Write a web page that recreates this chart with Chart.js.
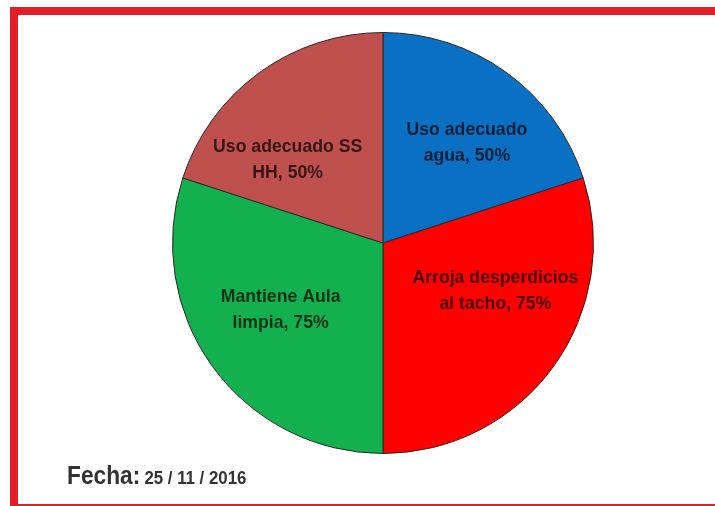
<!DOCTYPE html>
<html>
<head>
<meta charset="utf-8">
<script src="https://cdn.jsdelivr.net/npm/chart.js@4"></script>
<style>
  html, body { margin: 0; padding: 0; background: #fff; }
  #wrap { position: relative; width: 715px; height: 506px; overflow: hidden; }
  #fecha {
    position: absolute; left: 67px; top: 461px;
    font-family: "Liberation Sans", Arial, sans-serif;
    font-weight: bold; color: #333; white-space: nowrap;
    transform: scaleX(0.91); transform-origin: left center;
  }
  #fecha .k { font-size: 25px; }
  #fecha .v { font-size: 18.5px; }
</style>
</head>
<body>
<div id="wrap">
  <canvas id="grafico" width="715" height="506"></canvas>
  <div id="fecha"><span class="k">Fecha:</span> <span class="v">25 / 11 / 2016</span></div>
</div>
<script>
// datos del grafico
const categorias = ["Uso adecuado agua", "Arroja desperdicios al tacho", "Mantiene Aula limpia", "Uso adecuado SS HH"];
const valores = [50, 75, 75, 50];
const etiquetas = [["Uso adecuado", "agua, 50%"], ["Arroja desperdicios", "al tacho, 75%"], ["Mantiene Aula", "limpia, 75%"], ["Uso adecuado SS", "HH, 50%"]];
const colores = ["#0a70c4", "#ff0000", "#13b04f", "#c0504d"];

// ajuste fino de donde va cada etiqueta (grados, fraccion del radio)
const ajusteAngulo = [4, -13, 3, -13];
const ajusteRadio = [0.62, 0.58, 0.58, 0.6];

const canvas = document.getElementById("grafico");

// marco rojo
const marco = {
  id: "marco",
  beforeDraw(chart) {
    const ctx = chart.ctx;
    ctx.save();
    ctx.fillStyle = "#fff";
    ctx.fillRect(0, 0, chart.width, chart.height);
    ctx.strokeStyle = "#e21f26";
    ctx.lineWidth = 8;
    ctx.strokeRect(14, 11, 720, 497);
    ctx.restore();
  },
};

// etiquetas dentro de cada tajada
const textos = {
  id: "textos",
  afterDatasetsDraw(chart) {
    const ctx = chart.ctx;
    const meta = chart.getDatasetMeta(0);
    ctx.save();
    ctx.font = "bold 19px 'Liberation Sans', Arial, sans-serif";
    ctx.fillStyle = "rgba(0,0,0,0.72)";
    ctx.textAlign = "center";
    ctx.textBaseline = "middle";
    meta.data.forEach((arc, i) => {
      const p = arc.getProps(["x", "y", "startAngle", "endAngle", "outerRadius"], true);
      const a = (p.startAngle + p.endAngle) / 2 + (ajusteAngulo[i] * Math.PI) / 180;
      const r = p.outerRadius * ajusteRadio[i];
      const cx = p.x + Math.cos(a) * r;
      const cy = p.y + Math.sin(a) * r;
      etiquetas[i].forEach((linea, j) => {
        // letra angosta como Arial Narrow
        ctx.save();
        ctx.translate(cx, cy + (j - 0.5) * 26);
        ctx.scale(0.93, 1);
        ctx.fillText(linea, 0, 0);
        ctx.restore();
      });
    });
    ctx.restore();
  },
};

new Chart(canvas, {
  type: "pie",
  data: {
    labels: categorias,
    datasets: [
      {
        data: valores,
        backgroundColor: colores,
        borderColor: "#2a2a2a",
        borderWidth: 1,
      },
    ],
  },
  options: {
    responsive: false,
    animation: false,
    layout: { padding: { top: 32, bottom: 52, left: 172, right: 121 } },
    plugins: {
      legend: { display: false },
      tooltip: { enabled: false },
    },
  },
  plugins: [marco, textos],
});
</script>
</body>
</html>
